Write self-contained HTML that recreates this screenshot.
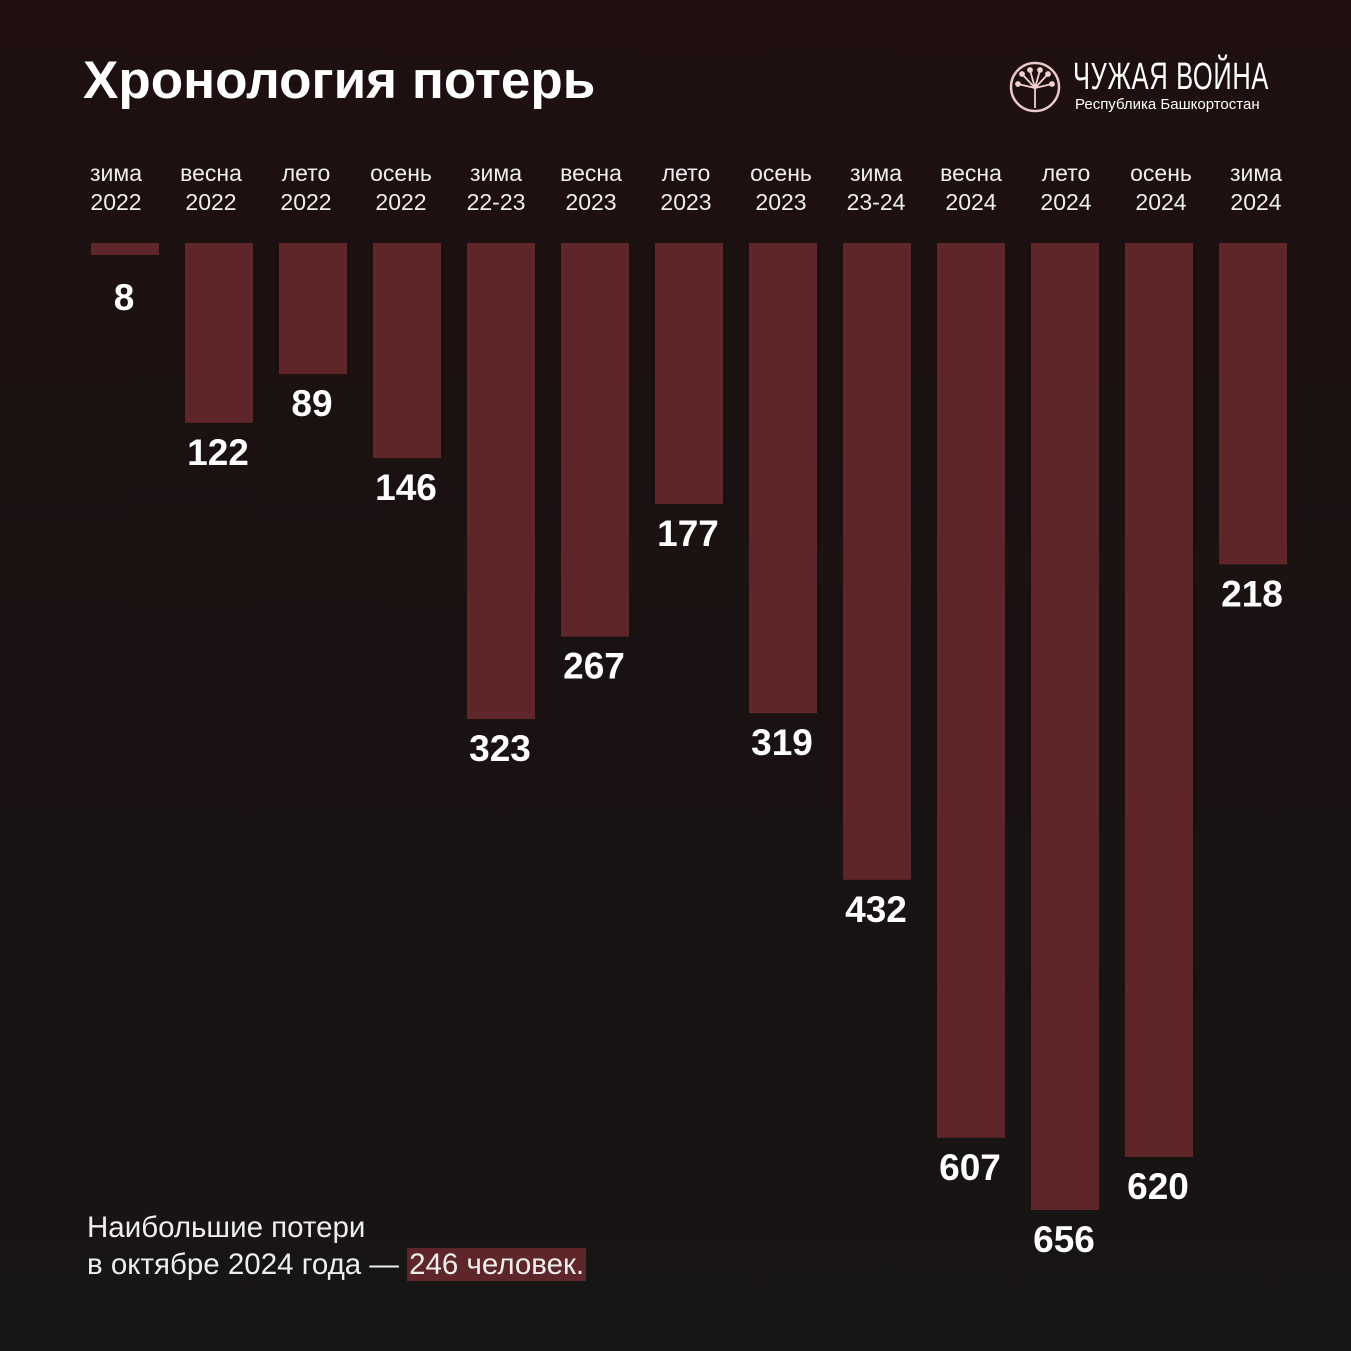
<!DOCTYPE html>
<html><head><meta charset="utf-8"><style>
body{margin:0;width:1351px;height:1351px;overflow:hidden;background:linear-gradient(180deg,#1f0f10 0%,#1a1212 50%,#171515 100%);font-family:"Liberation Sans",sans-serif;color:#fff;}
#wrap{position:relative;width:1351px;height:1351px;}
.t{position:absolute;white-space:nowrap}
</style></head><body><div id="wrap">
<div class="t" style="left:83px;top:50px;font-size:53px;font-weight:bold;">Хронология потерь</div>
<svg class="t" style="left:1008px;top:60px" width="54" height="54" viewBox="0 0 54 54"><circle cx="27" cy="27" r="24" fill="none" stroke="#e8c8c8" stroke-width="2.5"/><g stroke="#f0d0d0" stroke-width="1.8" fill="#f0d0d0"><line x1="27" y1="48" x2="27" y2="28"/><line x1="27" y1="28" x2="10" y2="24"/><line x1="27" y1="28" x2="14" y2="14"/><line x1="27" y1="28" x2="22" y2="10"/><line x1="27" y1="28" x2="32" y2="10"/><line x1="27" y1="28" x2="40" y2="14"/><line x1="27" y1="28" x2="44" y2="24"/><circle cx="10" cy="24" r="2"/><circle cx="14" cy="14" r="2"/><circle cx="22" cy="10" r="2"/><circle cx="32" cy="10" r="2"/><circle cx="40" cy="14" r="2"/><circle cx="44" cy="24" r="2"/></g></svg>
<div class="t" style="left:1073px;top:56px;font-size:38px;transform:scaleX(0.67);transform-origin:left;letter-spacing:1px">ЧУЖАЯ ВОЙНА</div>
<div class="t" style="left:1075px;top:96px;font-size:15px;">Республика Башкортостан</div>
<svg id="chart" class="t" style="left:0;top:0" width="1351" height="1351"></svg>
<div class="t" style="left:87px;top:1209px;font-size:29.5px;line-height:37px;color:#eee">Наибольшие потери<br>в октябре 2024 года — <span style="background:#5e2628;padding:0 2px">246 человек.</span></div>
</div>
<script>
const seasons=["зима","весна","лето","осень","зима","весна","лето","осень","зима","весна","лето","осень","зима"];
const years=["2022","2022","2022","2022","22-23","2023","2023","2023","23-24","2024","2024","2024","2024"];
const values=[8,122,89,146,323,267,177,319,432,607,656,620,218];
const NS="http://www.w3.org/2000/svg";
const svg=document.getElementById('chart');
const top0=243,scale=967/656,x0=91,pitch=94,bw=68,lx0=116,lpitch=95;
const xs=i=>x0+i*pitch, ys=v=>Math.max(v*scale,12), lx=i=>lx0+i*lpitch;
function mk(tag,a){const e=document.createElementNS(NS,tag);for(const k in a)e.setAttribute(k,a[k]);svg.appendChild(e);return e;}
values.forEach((v,i)=>{
 const cx=xs(i)+bw/2;
 const r=mk('rect',{x:xs(i),y:top0,width:bw,height:ys(v),fill:'#5e2628'});
 
 
 const l1=mk('text',{x:lx(i),y:181,'text-anchor':'middle','font-size':23,fill:'#eee','font-family':'Liberation Sans, sans-serif'});l1.textContent=seasons[i];
 
 
 const l2=mk('text',{x:lx(i),y:210,'text-anchor':'middle','font-size':23,fill:'#eee','font-family':'Liberation Sans, sans-serif'});l2.textContent=years[i];
 
 
 const vl=mk('text',{x:cx-1,y:top0+ys(v)+(v<20?55:42),'text-anchor':'middle','font-size':37,'font-weight':'bold',fill:'#fff','font-family':'Liberation Sans, sans-serif'});vl.textContent=v;
 
 
});
</script></body></html>
